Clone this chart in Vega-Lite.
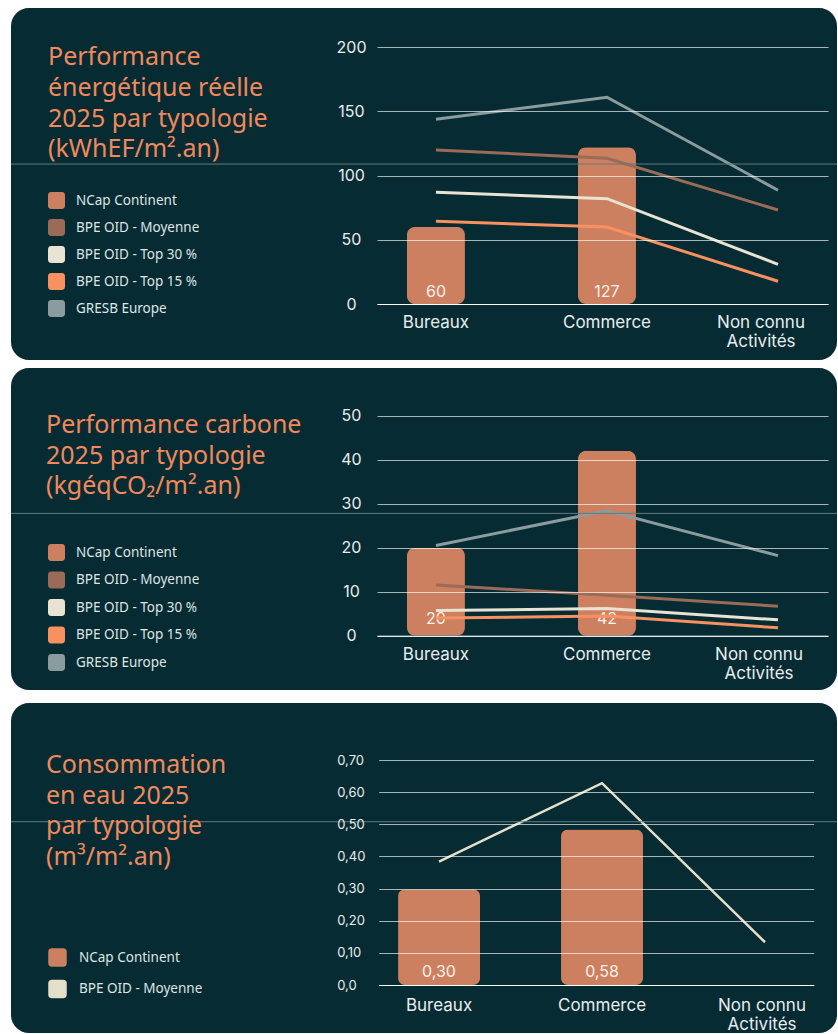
{
  "$schema": "https://vega.github.io/schema/vega-lite/v6.json",
  "background": "#ffffff",
  "padding": {"left": 10, "top": 8, "right": 0, "bottom": 0},
  "config": {"view": {"stroke": null}},
  "datasets": {
    "energie_barres": [
      {"typologie": "Bureaux", "serie": "NCap Continent", "valeur": 60, "etiquette": "60"},
      {"typologie": "Commerce", "serie": "NCap Continent", "valeur": 122, "etiquette": "127"}
    ],
    "energie_lignes": [
      {"typologie": "Bureaux", "serie": "GRESB Europe", "valeur": 143.8},
      {"typologie": "Commerce", "serie": "GRESB Europe", "valeur": 161},
      {"typologie": "Non connu Activités", "serie": "GRESB Europe", "valeur": 88.6},
      {"typologie": "Bureaux", "serie": "BPE OID - Moyenne", "valeur": 119.9},
      {"typologie": "Commerce", "serie": "BPE OID - Moyenne", "valeur": 113.5},
      {"typologie": "Non connu Activités", "serie": "BPE OID - Moyenne", "valeur": 73.2},
      {"typologie": "Bureaux", "serie": "BPE OID - Top 30 %", "valeur": 87},
      {"typologie": "Commerce", "serie": "BPE OID - Top 30 %", "valeur": 82},
      {"typologie": "Non connu Activités", "serie": "BPE OID - Top 30 %", "valeur": 30.9},
      {"typologie": "Bureaux", "serie": "BPE OID - Top 15 %", "valeur": 64.4},
      {"typologie": "Commerce", "serie": "BPE OID - Top 15 %", "valeur": 60},
      {"typologie": "Non connu Activités", "serie": "BPE OID - Top 15 %", "valeur": 17.7}
    ],
    "carbone_barres": [
      {"typologie": "Bureaux", "serie": "NCap Continent", "valeur": 20, "etiquette": "20"},
      {"typologie": "Commerce", "serie": "NCap Continent", "valeur": 42, "etiquette": "42"}
    ],
    "carbone_lignes": [
      {"typologie": "Bureaux", "serie": "GRESB Europe", "valeur": 20.5},
      {"typologie": "Commerce", "serie": "GRESB Europe", "valeur": 28.4},
      {"typologie": "Non connu Activités", "serie": "GRESB Europe", "valeur": 18.2},
      {"typologie": "Bureaux", "serie": "BPE OID - Moyenne", "valeur": 11.5},
      {"typologie": "Commerce", "serie": "BPE OID - Moyenne", "valeur": 9.2},
      {"typologie": "Non connu Activités", "serie": "BPE OID - Moyenne", "valeur": 6.7},
      {"typologie": "Bureaux", "serie": "BPE OID - Top 30 %", "valeur": 5.7},
      {"typologie": "Commerce", "serie": "BPE OID - Top 30 %", "valeur": 6.2},
      {"typologie": "Non connu Activités", "serie": "BPE OID - Top 30 %", "valeur": 3.6},
      {"typologie": "Bureaux", "serie": "BPE OID - Top 15 %", "valeur": 4.0},
      {"typologie": "Commerce", "serie": "BPE OID - Top 15 %", "valeur": 4.5},
      {"typologie": "Non connu Activités", "serie": "BPE OID - Top 15 %", "valeur": 1.8}
    ],
    "eau_barres": [
      {"typologie": "Bureaux", "serie": "NCap Continent", "valeur": 0.298, "etiquette": "0,30"},
      {"typologie": "Commerce", "serie": "NCap Continent", "valeur": 0.484, "etiquette": "0,58"}
    ],
    "eau_lignes": [
      {"typologie": "Bureaux", "serie": "BPE OID - Moyenne", "valeur": 0.384},
      {"typologie": "Commerce", "serie": "BPE OID - Moyenne", "valeur": 0.628},
      {"typologie": "Non connu Activités", "serie": "BPE OID - Moyenne", "valeur": 0.133}
    ],
    "separateur": [{"role": "separateur"}]
  },
  "spacing": 13,
  "resolve": {"scale": {"x": "independent", "y": "independent", "color": "independent"}, "legend": {"color": "independent"}},
  "vconcat": [
    {
      "spacing": 8,
      "resolve": {"scale": {"x": "independent", "y": "independent", "color": "independent"}, "legend": {"color": "independent"}},
      "vconcat": [
        {
          "width": 826,
          "height": 352,
          "view": {"fill": "#062b33", "cornerRadius": 18, "stroke": null},
          "title": {"text": ["Performance", "énergétique réelle", "2025 par typologie", "(kWhEF/m².an)"], "anchor": "start", "frame": "group", "orient": "top", "offset": -154.5, "dx": 37, "color": "#f0895c", "font": "Noto Sans", "fontSize": 25, "fontWeight": "normal", "lineHeight": 30.7},
          "layer": [
            {
              "data": {"name": "energie_barres"},
              "mark": {"type": "bar", "cornerRadius": 8},
              "encoding": {
                "x": {"field": "typologie", "type": "nominal", "scale": {"domain": ["Bureaux", "Commerce", "Non connu Activités"], "range": [366, 817], "paddingInner": 0.661, "paddingOuter": 0.149, "align": 0.588},
                  "axis": {"offset": -56, "labelPadding": 10.5, "labelFontSize": 17, "labelColor": "#e8eded", "labelFont": "Inter", "labelAngle": 0, "labelBaseline": "top", "labelLineHeight": 19, "labelOffset": {"condition": {"test": "datum.value == 'Non connu Activités'", "value": -17}, "value": 0}, "labelExpr": "datum.value == 'Non connu Activités' ? ['Non connu', 'Activités'] : datum.label", "domain": true, "domainColor": "#ffffff", "domainWidth": 1, "ticks": false, "grid": false, "title": null, "zindex": 1}},
                "y": {"field": "valeur", "type": "quantitative", "scale": {"domain": [0, 200], "range": [296, 39.2], "nice": false, "zero": true},
                  "axis": {"offset": -366, "values": [0, 50, 100, 150, 200], "format": "d", "labelAlign": "center", "labelBaseline": "middle", "labelPadding": 26, "labelFontSize": 16, "labelColor": "#e8eded", "labelFont": "Inter", "grid": true, "gridColor": "#ffffff", "gridOpacity": 0.65, "gridWidth": 1, "domain": false, "ticks": false, "title": null, "zindex": 1}},
                "color": {"field": "serie", "type": "nominal",
                  "scale": {"domain": ["NCap Continent", "BPE OID - Moyenne", "BPE OID - Top 30 %", "BPE OID - Top 15 %", "GRESB Europe"], "range": ["#cd805f", "#9a6b56", "#e9e3d3", "#f7915f", "#8a9c9e"]},
                  "legend": {"orient": "none", "legendX": 37, "legendY": 184, "title": null, "direction": "vertical", "symbolType": "M-1,-0.6 Q-1,-1 -0.6,-1 L0.6,-1 Q1,-1 1,-0.6 L1,0.6 Q1,1 0.6,1 L-0.6,1 Q-1,1 -1,0.6 Z", "symbolSize": 289, "symbolStrokeWidth": 0, "symbolOpacity": 1, "labelFont": "Noto Sans", "labelFontSize": 13.5, "labelColor": "#dfe5e5", "labelOffset": 11, "rowPadding": 10, "padding": 0, "labelLimit": 300}}
              }
            },
            {
              "data": {"name": "energie_barres"},
              "mark": {"type": "text", "baseline": "alphabetic", "dy": -7, "fontSize": 16, "font": "Inter", "color": "#f7f1ea"},
              "encoding": {
                "x": {"field": "typologie", "type": "nominal", "scale": {"domain": ["Bureaux", "Commerce", "Non connu Activités"], "range": [366, 817], "paddingInner": 0.661, "paddingOuter": 0.149, "align": 0.588}},
                "y": {"datum": 0, "type": "quantitative", "scale": {"domain": [0, 200], "range": [296, 39.2], "nice": false, "zero": true}},
                "text": {"field": "etiquette"}
              }
            },
            {
              "data": {"name": "energie_lignes"},
              "mark": {"type": "line", "strokeWidth": 3},
              "encoding": {
                "x": {"field": "typologie", "type": "nominal", "scale": {"domain": ["Bureaux", "Commerce", "Non connu Activités"], "range": [366, 817], "paddingInner": 0.661, "paddingOuter": 0.149, "align": 0.588}},
                "y": {"field": "valeur", "type": "quantitative", "scale": {"domain": [0, 200], "range": [296, 39.2], "nice": false, "zero": true}},
                "color": {"field": "serie", "type": "nominal",
                  "scale": {"domain": ["NCap Continent", "BPE OID - Moyenne", "BPE OID - Top 30 %", "BPE OID - Top 15 %", "GRESB Europe"], "range": ["#cd805f", "#9a6b56", "#e9e3d3", "#f7915f", "#8a9c9e"]}, "legend": null}
              }
            },
            {
              "data": {"name": "separateur"},
              "mark": {"type": "rule", "color": "#5f7b80", "strokeWidth": 1},
              "encoding": {
                "y": {"datum": 109, "type": "quantitative", "scale": {"domain": [0, 200], "range": [296, 39.2], "nice": false, "zero": true}}
              }
            }
          ]
        },
        {
          "width": 826,
          "height": 322,
          "view": {"fill": "#062b33", "cornerRadius": 18, "stroke": null},
          "title": {"text": ["Performance carbone", "2025 par typologie", "(kgéqCO₂/m².an)"], "anchor": "start", "frame": "group", "orient": "top", "offset": -131.5, "dx": 35, "color": "#f0895c", "font": "Noto Sans", "fontSize": 25, "fontWeight": "normal", "lineHeight": 30.8},
          "layer": [
            {
              "data": {"name": "carbone_barres"},
              "mark": {"type": "bar", "cornerRadius": 8},
              "encoding": {
                "x": {"field": "typologie", "type": "nominal", "scale": {"domain": ["Bureaux", "Commerce", "Non connu Activités"], "range": [366, 817], "paddingInner": 0.661, "paddingOuter": 0.149, "align": 0.588},
                  "axis": {"offset": -54.3, "labelPadding": 10.5, "labelFontSize": 17, "labelColor": "#e8eded", "labelFont": "Inter", "labelAngle": 0, "labelBaseline": "top", "labelLineHeight": 19, "labelOffset": {"condition": {"test": "datum.value == 'Non connu Activités'", "value": -19}, "value": 0}, "labelExpr": "datum.value == 'Non connu Activités' ? ['Non connu', 'Activités'] : datum.label", "domain": true, "domainColor": "#ffffff", "domainWidth": 1, "ticks": false, "grid": false, "title": null, "zindex": 1}},
                "y": {"field": "valeur", "type": "quantitative", "scale": {"domain": [0, 50], "range": [267.7, 47.7], "nice": false, "zero": true},
                  "axis": {"offset": -366, "values": [0, 10, 20, 30, 40, 50], "format": "d", "labelAlign": "center", "labelBaseline": "middle", "labelPadding": 26, "labelFontSize": 16, "labelColor": "#e8eded", "labelFont": "Inter", "grid": true, "gridColor": "#ffffff", "gridOpacity": 0.65, "gridWidth": 1, "domain": false, "ticks": false, "title": null, "zindex": 1}},
                "color": {"field": "serie", "type": "nominal",
                  "scale": {"domain": ["NCap Continent", "BPE OID - Moyenne", "BPE OID - Top 30 %", "BPE OID - Top 15 %", "GRESB Europe"], "range": ["#cd805f", "#9a6b56", "#e9e3d3", "#f7915f", "#8a9c9e"]},
                  "legend": {"orient": "none", "legendX": 37, "legendY": 176, "title": null, "direction": "vertical", "symbolType": "M-1,-0.6 Q-1,-1 -0.6,-1 L0.6,-1 Q1,-1 1,-0.6 L1,0.6 Q1,1 0.6,1 L-0.6,1 Q-1,1 -1,0.6 Z", "symbolSize": 289, "symbolStrokeWidth": 0, "symbolOpacity": 1, "labelFont": "Noto Sans", "labelFontSize": 13.5, "labelColor": "#dfe5e5", "labelOffset": 11, "rowPadding": 10.5, "padding": 0, "labelLimit": 300}}
              }
            },
            {
              "data": {"name": "carbone_barres"},
              "mark": {"type": "text", "baseline": "alphabetic", "dy": -11.7, "fontSize": 16, "font": "Inter", "color": "#f7f1ea"},
              "encoding": {
                "x": {"field": "typologie", "type": "nominal", "scale": {"domain": ["Bureaux", "Commerce", "Non connu Activités"], "range": [366, 817], "paddingInner": 0.661, "paddingOuter": 0.149, "align": 0.588}},
                "y": {"datum": 0, "type": "quantitative", "scale": {"domain": [0, 50], "range": [267.7, 47.7], "nice": false, "zero": true}},
                "text": {"field": "etiquette"}
              }
            },
            {
              "data": {"name": "carbone_lignes"},
              "mark": {"type": "line", "strokeWidth": 3},
              "encoding": {
                "x": {"field": "typologie", "type": "nominal", "scale": {"domain": ["Bureaux", "Commerce", "Non connu Activités"], "range": [366, 817], "paddingInner": 0.661, "paddingOuter": 0.149, "align": 0.588}},
                "y": {"field": "valeur", "type": "quantitative", "scale": {"domain": [0, 50], "range": [267.7, 47.7], "nice": false, "zero": true}},
                "color": {"field": "serie", "type": "nominal",
                  "scale": {"domain": ["NCap Continent", "BPE OID - Moyenne", "BPE OID - Top 30 %", "BPE OID - Top 15 %", "GRESB Europe"], "range": ["#cd805f", "#9a6b56", "#e9e3d3", "#f7915f", "#8a9c9e"]}, "legend": null}
              }
            },
            {
              "data": {"name": "separateur"},
              "mark": {"type": "rule", "color": "#5f7b80", "strokeWidth": 1},
              "encoding": {
                "y": {"datum": 27.8, "type": "quantitative", "scale": {"domain": [0, 50], "range": [267.7, 47.7], "nice": false, "zero": true}}
              }
            }
          ]
        }
      ]
    },
    {
      "width": 826,
      "height": 330,
      "view": {"fill": "#062b33", "cornerRadius": 18, "stroke": null},
      "title": {"text": ["Consommation", "en eau 2025", "par typologie", "(m³/m².an)"], "anchor": "start", "frame": "group", "orient": "top", "offset": -167, "dx": 35, "color": "#f0895c", "font": "Noto Sans", "fontSize": 25, "fontWeight": "normal", "lineHeight": 30.7},
      "layer": [
        {
          "data": {"name": "eau_barres"},
          "mark": {"type": "bar", "cornerRadius": 7},
          "encoding": {
            "x": {"field": "typologie", "type": "nominal", "scale": {"domain": ["Bureaux", "Commerce", "Non connu Activités"], "range": [367.7, 802.7], "paddingInner": 0.497, "paddingOuter": 0.083, "align": 0.715},
              "axis": {"offset": -48, "labelPadding": 12, "labelFontSize": 17, "labelColor": "#e8eded", "labelFont": "Inter", "labelAngle": 0, "labelBaseline": "top", "labelLineHeight": 19, "labelOffset": {"condition": {"test": "datum.value == 'Non connu Activités'", "value": -3}, "value": 0}, "labelExpr": "datum.value == 'Non connu Activités' ? ['Non connu', 'Activités'] : datum.label", "domain": true, "domainColor": "#ffffff", "domainWidth": 1, "ticks": false, "grid": false, "title": null, "zindex": 1}},
            "y": {"field": "valeur", "type": "quantitative", "scale": {"domain": [0, 0.7], "range": [282, 57], "nice": false, "zero": true},
              "axis": {"offset": -367.7, "values": [0, 0.1, 0.2, 0.3, 0.4, 0.5, 0.6, 0.7], "labelExpr": "datum.value == 0 ? '0,0' : replace(format(datum.value, '.2f'), '.', ',')", "labelAlign": "left", "labelBaseline": "middle", "labelPadding": 42, "labelFontSize": 13, "labelColor": "#e8eded", "labelFont": "Inter", "grid": true, "gridColor": "#ffffff", "gridOpacity": 0.65, "gridWidth": 1, "domain": false, "ticks": false, "title": null, "zindex": 1}},
            "color": {"field": "serie", "type": "nominal",
              "scale": {"domain": ["NCap Continent", "BPE OID - Moyenne"], "range": ["#cd805f", "#e4dfcb"]},
              "legend": {"orient": "none", "legendX": 37, "legendY": 245, "title": null, "direction": "vertical", "symbolType": "M-1,-0.6 Q-1,-1 -0.6,-1 L0.6,-1 Q1,-1 1,-0.6 L1,0.6 Q1,1 0.6,1 L-0.6,1 Q-1,1 -1,0.6 Z", "symbolSize": 342, "symbolStrokeWidth": 0, "symbolOpacity": 1, "labelFont": "Noto Sans", "labelFontSize": 13.5, "labelColor": "#dfe5e5", "labelOffset": 12, "rowPadding": 12.5, "padding": 0, "labelLimit": 300}}
          }
        },
        {
          "data": {"name": "eau_barres"},
          "mark": {"type": "text", "baseline": "alphabetic", "dy": -8, "fontSize": 16, "font": "Inter", "color": "#f7f1ea"},
          "encoding": {
            "x": {"field": "typologie", "type": "nominal", "scale": {"domain": ["Bureaux", "Commerce", "Non connu Activités"], "range": [367.7, 802.7], "paddingInner": 0.497, "paddingOuter": 0.083, "align": 0.715}},
            "y": {"datum": 0, "type": "quantitative", "scale": {"domain": [0, 0.7], "range": [282, 57], "nice": false, "zero": true}},
            "text": {"field": "etiquette"}
          }
        },
        {
          "data": {"name": "eau_lignes"},
          "mark": {"type": "line", "strokeWidth": 2.5},
          "encoding": {
            "x": {"field": "typologie", "type": "nominal", "scale": {"domain": ["Bureaux", "Commerce", "Non connu Activités"], "range": [367.7, 802.7], "paddingInner": 0.497, "paddingOuter": 0.083, "align": 0.715}},
            "y": {"field": "valeur", "type": "quantitative", "scale": {"domain": [0, 0.7], "range": [282, 57], "nice": false, "zero": true}},
            "color": {"field": "serie", "type": "nominal",
              "scale": {"domain": ["NCap Continent", "BPE OID - Moyenne"], "range": ["#cd805f", "#e4dfcb"]}, "legend": null}
          }
        },
        {
          "data": {"name": "separateur"},
          "mark": {"type": "rule", "color": "#5f7b80", "strokeWidth": 1},
          "encoding": {
            "y": {"datum": 0.508, "type": "quantitative", "scale": {"domain": [0, 0.7], "range": [282, 57], "nice": false, "zero": true}}
          }
        }
      ]
    }
  ]
}
